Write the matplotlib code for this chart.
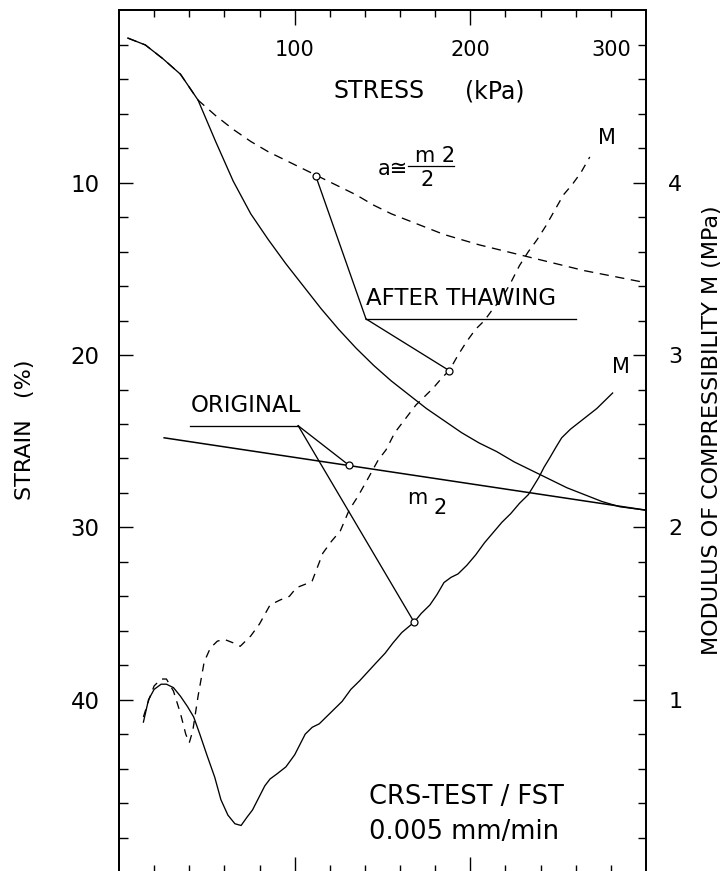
import numpy as np
import matplotlib
matplotlib.use("Agg")
import matplotlib.pyplot as plt

plt.rcParams['font.family'] = ['DejaVu Sans']

# ---------------- data ----------------
# stress-strain, original sample (solid)
stress_original = [5, 15, 25, 35, 45, 55, 65, 75, 85, 95, 105, 115, 125, 135, 145,
                   155, 165, 175, 185, 195, 205, 215, 225, 235, 245, 255, 265, 275, 285, 300]
strain_original = [1.6, 2.0, 2.8, 3.7, 5.2, 7.6, 9.9, 11.8, 13.3, 14.7, 16.0, 17.3, 18.5, 19.6, 20.6,
                   21.5, 22.3, 23.1, 23.8, 24.5, 25.1, 25.6, 26.2, 26.7, 27.2, 27.7, 28.1, 28.5, 28.8, 29.0]

# stress-strain, after thawing (dashed)
stress_thawed = [5, 15, 25, 35, 45, 55, 65, 75, 85, 95, 105, 115, 125, 135, 145,
                 155, 165, 175, 185, 195, 205, 215, 225, 235, 245, 255, 265, 275, 285, 300]
strain_thawed = [1.6, 2.0, 2.8, 3.7, 5.2, 6.1, 6.9, 7.6, 8.2, 8.7, 9.2, 9.7, 10.2, 10.7, 11.3,
                 11.8, 12.2, 12.6, 13.0, 13.3, 13.6, 13.85, 14.1, 14.35, 14.6, 14.85, 15.1, 15.3, 15.5, 15.8]

# modulus M, original (solid)
m_stress_original = [13.9, 16.8, 20, 24, 27, 31, 35, 39, 42.5, 46, 50, 54.5, 58, 62, 66, 69.5, 73, 76,
                     80, 83, 86, 90, 95, 100, 106, 110, 114, 118, 122, 127, 132, 137, 141.5, 146,
                     151.5, 156, 161, 168, 172, 177, 181, 185, 189, 193, 198, 203, 208, 213, 218,
                     223, 228, 233, 236, 239, 242, 245, 249, 252, 257, 262, 267, 272, 277, 281]
m_original = [0.87, 1.0, 1.06, 1.09, 1.09, 1.07, 1.02, 0.96, 0.9, 0.80, 0.68, 0.55, 0.42, 0.33, 0.28,
              0.27, 0.32, 0.36, 0.44, 0.50, 0.54, 0.57, 0.61, 0.68, 0.80, 0.84, 0.86, 0.90, 0.94,
              0.99, 1.06, 1.11, 1.16, 1.21, 1.27, 1.33, 1.39, 1.45, 1.50, 1.55, 1.61, 1.68, 1.71,
              1.73, 1.78, 1.84, 1.91, 1.97, 2.03, 2.08, 2.14, 2.19, 2.24, 2.29, 2.35, 2.40, 2.47,
              2.52, 2.57, 2.61, 2.65, 2.69, 2.74, 2.78]

# modulus M, after thawing (dashed)
m_stress_thawed = [13.9, 17, 20, 24, 27, 31, 35, 38, 40, 42, 45, 48.5, 52, 56, 60, 65, 69, 75, 80,
                   86, 92, 97, 101, 106, 110, 116, 121, 126, 131, 136, 141, 147.5, 152, 157, 163,
                   169, 174, 179, 184, 188, 193, 198, 203, 208, 213, 218, 223, 228, 233, 238, 243,
                   248, 253, 258, 263, 268]
m_thawed = [0.9, 1.0, 1.08, 1.12, 1.12, 1.05, 0.92, 0.8, 0.75, 0.82, 1.02, 1.22, 1.30, 1.34, 1.35,
            1.33, 1.31, 1.37, 1.44, 1.55, 1.58, 1.60, 1.65, 1.67, 1.69, 1.85, 1.92, 1.98, 2.10,
            2.18, 2.27, 2.39, 2.45, 2.55, 2.63, 2.71, 2.76, 2.81, 2.87, 2.91, 3.0, 3.08, 3.15,
            3.20, 3.27, 3.33, 3.42, 3.52, 3.60, 3.67, 3.75, 3.84, 3.93, 3.99, 4.06, 4.15]

# tangent line m2
tangent_stress = [25.7, 300]
tangent_strain = [24.8, 29.0]

# marked points
pt_thawed_curve = (112, 9.6)      # on dashed stress-strain (strain)
pt_thawed_M = (188, 2.91)         # on dashed M (MPa)
pt_tangent = (131, 26.4)          # on tangent (strain)
pt_original_M = (168, 1.45)       # on solid M (MPa)

# label anchors (stress, strain)
original_label = (40.6, 24.1, 102)      # x0, underline strain, x1
thawing_label = (140.6, 17.9, 260)

strain_ticks = [10, 20, 30, 40]
strain_minor = list(range(2, 50, 2))
m_ticks = [1, 2, 3, 4]
m_minor = [round(0.2 * i, 1) for i in range(1, 25)]
stress_ticks = [100, 200]
stress_minor = list(range(20, 300, 20))
stress_labels = [100, 200, 300]

# ---------------- figure ----------------
W, H = 728, 871
fig = plt.figure(figsize=(W / 100, H / 100), dpi=100)
ax = fig.add_axes([119 / W, -1 / H, 527 / W, 861.5 / H])
ax.set_xlim(0, 300)
ax.set_ylim(50, 0)
ax2 = ax.twinx()
ax2.set_ylim(0, 5)

for a in (ax, ax2):
    for s in a.spines.values():
        s.set_linewidth(1.3)

lw = 0.95
ax.plot(stress_original, strain_original, color='k', lw=lw)
ax.plot(stress_thawed, strain_thawed, color='k', lw=lw, ls=(0, (7, 5)))
ax.plot(tangent_stress, tangent_strain, color='k', lw=1.1)
ax2.plot(m_stress_original, m_original, color='k', lw=lw)
ax2.plot(m_stress_thawed, m_thawed, color='k', lw=lw, ls=(0, (6, 5)))


def m_to_strain(x, m):
    disp = ax2.transData.transform((x, m))
    return ax.transData.inverted().transform(disp)[1]


# ORIGINAL leaders
x0, yu, x1 = original_label
ax.plot([x0, x1], [yu, yu], color='k', lw=lw)
ax.plot([x1, pt_tangent[0]], [yu, pt_tangent[1]], color='k', lw=lw)
ax.plot([x1, pt_original_M[0]], [yu, m_to_strain(*pt_original_M)], color='k', lw=lw)
ax.text(x0, 23.3, 'ORIGINAL', fontsize=16.5, ha='left', va='baseline')

# AFTER THAWING leaders
x0, yu, x1 = thawing_label
ax.plot([x0, x1], [yu, yu], color='k', lw=lw)
ax.plot([x0, pt_thawed_curve[0]], [yu, pt_thawed_curve[1]], color='k', lw=lw)
ax.plot([x0, pt_thawed_M[0]], [yu, m_to_strain(*pt_thawed_M)], color='k', lw=lw)
ax.text(x0, 17.1, 'AFTER THAWING', fontsize=16.5, ha='left', va='baseline')

mk = dict(marker='o', ms=5, mfc='white', mec='k', mew=0.9, ls='none', zorder=6)
ax.plot(*pt_thawed_curve, **mk)
ax.plot(*pt_tangent, **mk)
ax2.plot(*pt_thawed_M, **mk)
ax2.plot(*pt_original_M, **mk)

# annotations
ax.text(148, 5.08, 'STRESS', fontsize=17, ha='center', va='baseline')
ax.text(214, 5.08, '(kPa)', fontsize=17, ha='center', va='baseline')
ax.text(164.5, 9.55, 'a≅', fontsize=15, ha='right', va='baseline')
ax.text(168.5, 8.82, 'm 2', fontsize=15, ha='left', va='baseline')
ax.plot([164.5, 190.6], [9.0, 9.0], color='k', lw=0.9)
ax.text(175.5, 9.85, '2', fontsize=15, ha='center', va='center')
ax.text(170, 28.3, 'm', fontsize=15, ha='center', va='center')
ax.text(183, 28.85, '2', fontsize=15, ha='center', va='center')
ax.text(278, 7.4, 'M', fontsize=15, ha='center', va='center')
ax.text(286, 20.7, 'M', fontsize=15, ha='center', va='center')
ax.text(142.3, 46.05, 'CRS-TEST / FST', fontsize=18.5, ha='left', va='baseline')
ax.text(142.3, 48.1, '0.005 mm/min', fontsize=18.5, ha='left', va='baseline')

# stress tick labels drawn inside the frame
for v in stress_labels:
    if v >= 300:
        ax.annotate(str(v), (v, 2.65), xytext=(-11, 0), textcoords='offset points',
                    fontsize=15, ha='right', va='baseline')
    else:
        ax.text(v, 2.65, str(v), fontsize=15, ha='center', va='baseline')

# ticks
ax.set_xticks(stress_ticks)
ax.set_xticks(stress_minor, minor=True)
ax.tick_params(axis='x', which='both', direction='in', top=True, bottom=True,
               labelbottom=False, labeltop=False, width=1.0)
ax.tick_params(axis='x', which='major', length=11)
ax.tick_params(axis='x', which='minor', length=5)

ax.set_yticks(strain_ticks)
ax.set_yticklabels([str(v) for v in strain_ticks])
ax.set_yticks(strain_minor, minor=True)
ax.tick_params(axis='y', which='both', direction='in', left=True, right=False,
               width=1.0, labelsize=16.5, pad=14)
ax.tick_params(axis='y', which='major', length=10)
ax.tick_params(axis='y', which='minor', length=6.5)

ax2.set_yticks(m_ticks)
ax2.set_yticklabels([str(v) for v in m_ticks])
ax2.set_yticks(m_minor, minor=True)
ax2.tick_params(axis='y', which='both', direction='in', width=1.0, labelsize=16, pad=16)
ax2.tick_params(axis='y', which='major', length=9.5)
ax2.tick_params(axis='y', which='minor', length=6)

ax.set_ylabel('STRAIN   (%)', fontsize=16, va='center', ha='center')
ax.yaxis.set_label_coords(-0.178, 0.513)
ax2.set_ylabel('MODULUS OF COMPRESSIBILITY M (MPa)', fontsize=16, va='center', ha='center')
ax2.yaxis.set_label_coords(1.126, 0.513)

fig.savefig('out.png', dpi=100)
